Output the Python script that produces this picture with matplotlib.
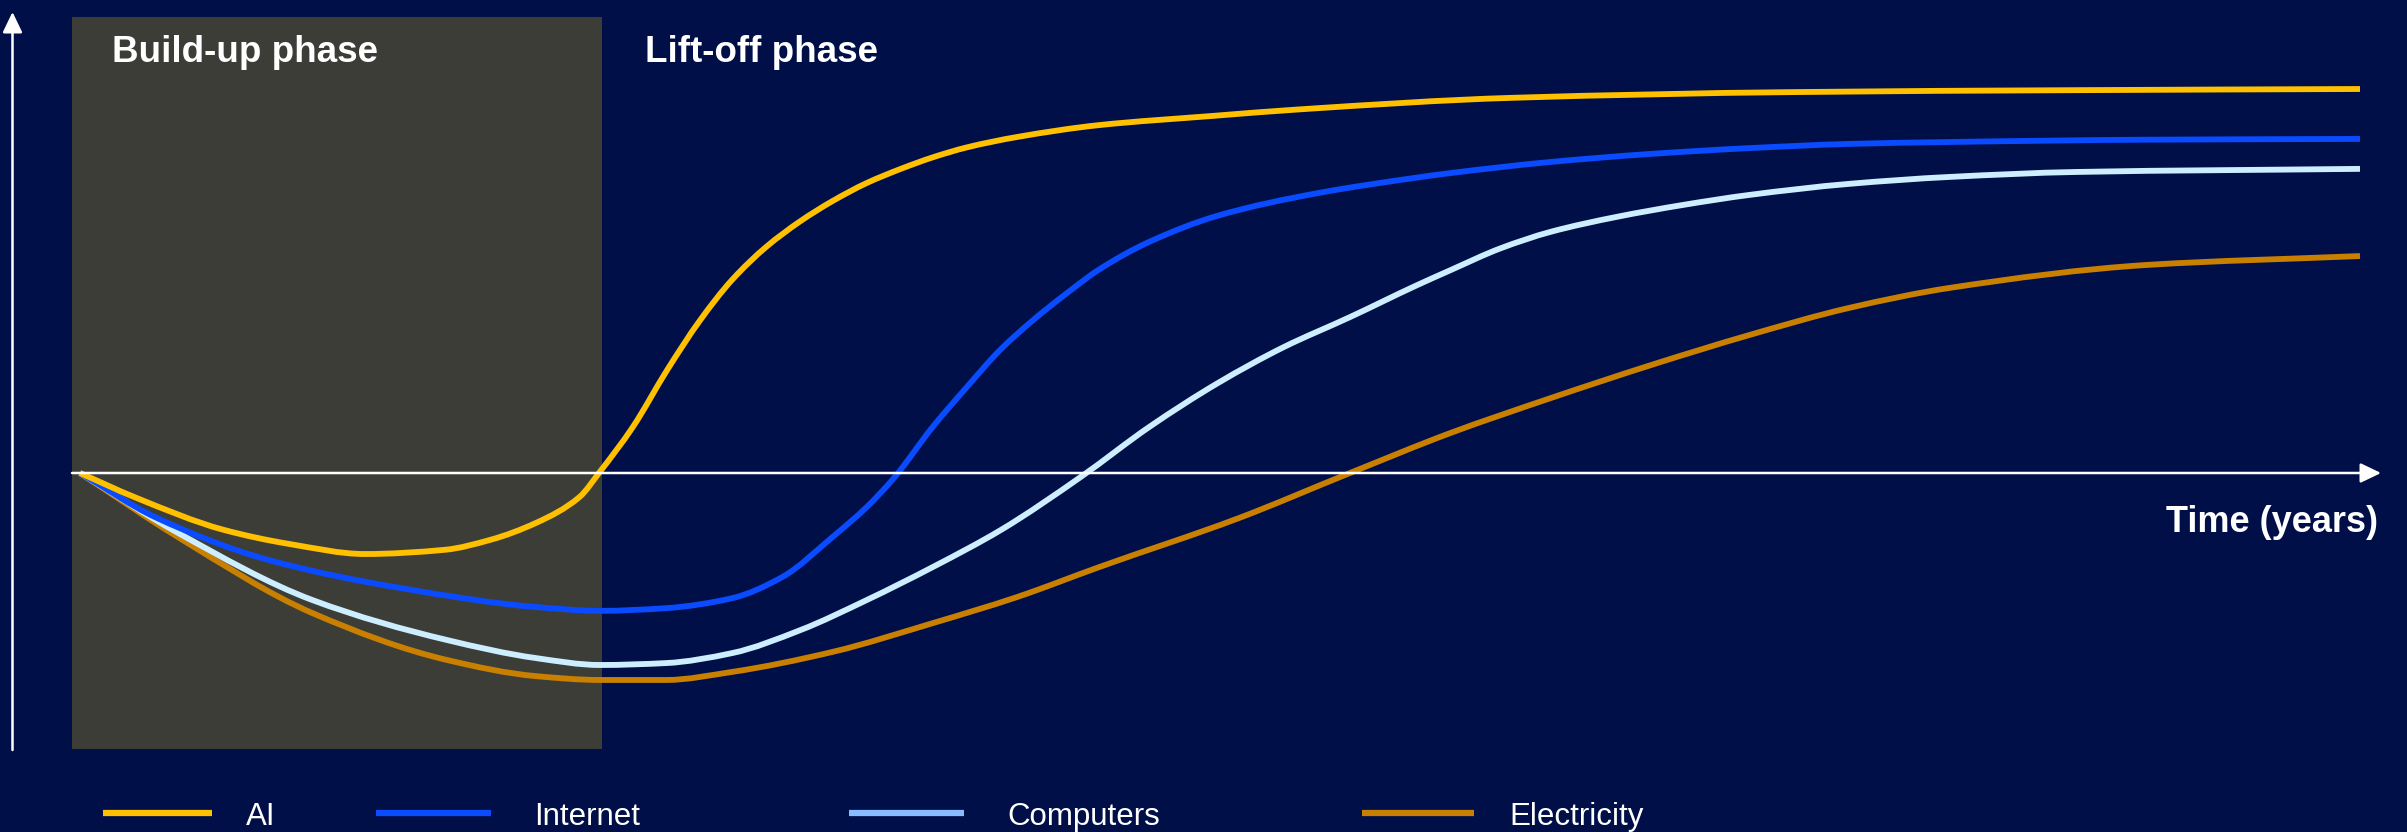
import numpy as np
import matplotlib.pyplot as plt
from matplotlib.lines import Line2D
from matplotlib.path import Path
from matplotlib.patches import PathPatch

plt.rcParams['font.family'] = ['Liberation Sans', 'DejaVu Sans']

BG = '#000F47'
BOX = '#3D3D38'

# time (arbitrary units, 0-100) and relative productivity level
ai_t = [0, 2.4, 6.3, 9.2, 12.5, 16.0, 18.0, 20.0, 21.9, 22.8, 24.25, 25.75, 27.2, 28.6,
        30.1, 31.6, 33.0, 34.5, 36.0, 37.4, 38.9, 41.1, 44.7, 49.7, 53.5, 62.8, 75.2,
        87.6, 100]
ai_v = [0, -0.063, -0.148, -0.185, -0.211, -0.200, -0.174, -0.130, -0.063, 0.003, 0.120,
        0.268, 0.398, 0.503, 0.589, 0.656, 0.708, 0.755, 0.792, 0.822, 0.848, 0.875,
        0.906, 0.930, 0.947, 0.977, 0.992, 0.997, 1.0]

internet_t = [0, 3.3, 8.3, 14.1, 20.0, 22.8, 25.7, 28.6, 30.8, 33.0, 34.5, 35.7, 37.4,
              38.9, 40.35, 41.8, 43.3, 44.7, 46.9, 49.9, 54.3, 58.6, 60.1, 64.5, 68.9,
              73.2, 77.6, 82.0, 90.7, 100]
internet_v = [0, -0.115, -0.227, -0.300, -0.349, -0.359, -0.352, -0.326, -0.271, -0.167,
              -0.089, -0.013, 0.120, 0.224, 0.320, 0.398, 0.469, 0.530, 0.602, 0.670,
              0.729, 0.769, 0.781, 0.810, 0.831, 0.846, 0.857, 0.862, 0.868, 0.870]

computers_t = [0, 4.3, 10.2, 16.1, 20.0, 22.8, 25.7, 28.6, 31.6, 34.5, 37.4, 40.4, 43.9,
               46.9, 49.9, 52.8, 55.7, 58.6, 60.1, 62.3, 64.5, 67.4, 70.3, 73.2, 77.6,
               82.0, 87.6, 100]
computers_v = [0, -0.156, -0.331, -0.435, -0.482, -0.500, -0.495, -0.469, -0.409, -0.331,
               -0.245, -0.148, -0.010, 0.120, 0.234, 0.328, 0.406, 0.488, 0.528, 0.585,
               0.628, 0.667, 0.698, 0.724, 0.753, 0.771, 0.784, 0.792]

electricity_t = [0, 4.3, 10.2, 16.1, 20.0, 22.8, 25.7, 28.6, 33.0, 37.4, 41.1, 44.7, 50.8,
                 55.7, 60.1, 64.5, 68.9, 73.2, 77.6, 82.0, 90.7, 100]
electricity_v = [0, -0.167, -0.365, -0.487, -0.529, -0.539, -0.539, -0.518, -0.466, -0.391,
                 -0.323, -0.245, -0.118, 0, 0.104, 0.195, 0.281, 0.359, 0.430, 0.482,
                 0.542, 0.565]

labels = ['AI', 'Internet', 'Computers', 'Electricity']
line_colors = ['#FFC000', '#0A4BFF', '#CCEEFF', '#C98000']
legend_colors = ['#FFC000', '#0A4BFF', '#88BBFF', '#C98000']

buildup_start = -0.35
buildup_end = 22.9


def smooth_path(t, v):
    # cubic bezier segments through the read points (monotone hermite tangents)
    t = np.asarray(t, float)
    v = np.asarray(v, float)
    h = np.diff(t)
    m = np.diff(v) / h
    d = np.zeros_like(v)
    d[0], d[-1] = m[0], m[-1]
    for k in range(1, len(v) - 1):
        if m[k - 1] * m[k] <= 0:
            d[k] = 0
        else:
            w1 = 2 * h[k] + h[k - 1]
            w2 = h[k] + 2 * h[k - 1]
            d[k] = (w1 + w2) / (w1 / m[k - 1] + w2 / m[k])
    verts = [(t[0], v[0])]
    codes = [Path.MOVETO]
    for k in range(len(h)):
        verts += [(t[k] + h[k] / 3, v[k] + d[k] * h[k] / 3),
                  (t[k + 1] - h[k] / 3, v[k + 1] - d[k + 1] * h[k] / 3),
                  (t[k + 1], v[k + 1])]
        codes += [Path.CURVE4] * 3
    return Path(verts, codes)


# px -> data: t = (px - 80) / 22.8 ; v = (473 - py) / 384
fig = plt.figure(figsize=(24.07, 8.32), dpi=100, facecolor=BG)
ax = fig.add_axes([0, 0, 1, 1])
ax.set_facecolor(BG)
ax.set_xlim(-80 / 22.8, (2407 - 80) / 22.8)
ax.set_ylim((473 - 832) / 384, 473 / 384)
ax.axis('off')

# build-up phase shading
ax.axvspan(buildup_start, buildup_end, ymin=(832 - 749) / 832, ymax=(832 - 17) / 832,
           color=BOX, lw=0, zorder=0)

series = [(electricity_t, electricity_v, 3), (computers_t, computers_v, 2),
          (internet_t, internet_v, 1), (ai_t, ai_v, 0)]
for t, v, i in series:
    ax.add_patch(PathPatch(smooth_path(t, v), fill=False, edgecolor=line_colors[i],
                           lw=4.2, capstyle='butt', joinstyle='round', zorder=6 - i))

# axes arrows
arrow = dict(arrowstyle='-|>,head_length=1.25,head_width=0.6', color='white', lw=1.8,
             shrinkA=0, shrinkB=0)
ax.annotate('', xy=((2381 - 80) / 22.8, 0), xytext=(buildup_start, 0),
            arrowprops=arrow, zorder=10)
ax.annotate('', xy=((12.5 - 80) / 22.8, (473 - 12) / 384),
            xytext=((12.5 - 80) / 22.8, (473 - 750) / 384), arrowprops=arrow, zorder=10)

fig.text(2378 / 2407, 1 - 532 / 832, 'Time (years)', color='white', fontsize=26,
         fontweight='bold', ha='right', va='baseline')
fig.text(112 / 2407, 1 - 62 / 832, 'Build-up phase', color='white', fontsize=26.5,
         fontweight='bold', ha='left', va='baseline')
fig.text(645 / 2407, 1 - 62 / 832, 'Lift-off phase', color='white', fontsize=26.5,
         fontweight='bold', ha='left', va='baseline')

# legend
leg_x = [(103, 212, 246), (376, 491, 534), (849, 964, 1007), (1362, 1474, 1509)]
for (x0, x1, xt), lab, c in zip(leg_x, labels, legend_colors):
    fig.add_artist(Line2D([x0 / 2407, x1 / 2407], [1 - 813 / 832] * 2, color=c, lw=4.5,
                          solid_capstyle='butt', transform=fig.transFigure))
    fig.text(xt / 2407, 1 - 825 / 832, lab, color='white', fontsize=22.5,
             ha='left', va='baseline')

fig.savefig('out.png', dpi=100, facecolor=BG)
